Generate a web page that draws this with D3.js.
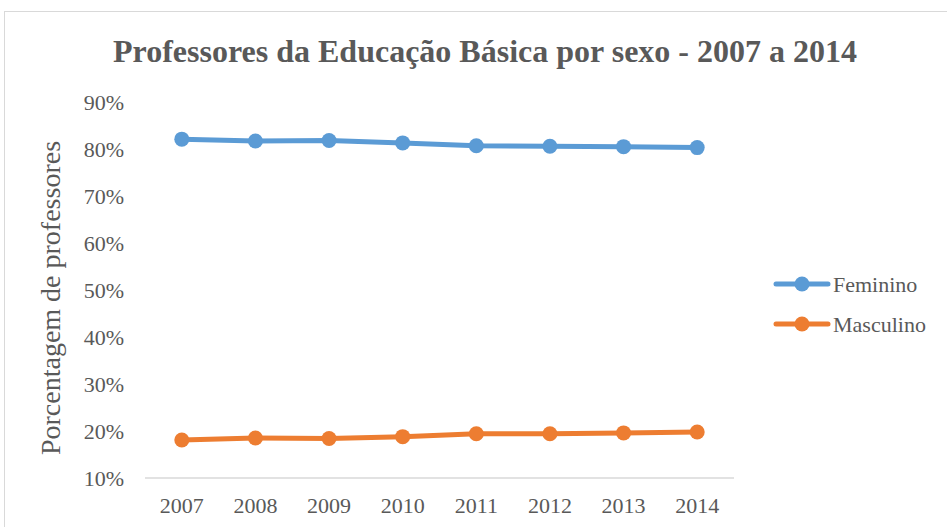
<!DOCTYPE html>
<html>
<head>
<meta charset="utf-8">
<script src="https://cdn.jsdelivr.net/npm/d3@7"></script>
<style>
  body { margin: 0; background: #fff; }
  svg text { font-family: "Liberation Serif", "Times New Roman", serif; }
</style>
</head>
<body>
<div id="chart"></div>
<script>
const years = ["2007", "2008", "2009", "2010", "2011", "2012", "2013", "2014"];
const feminino = [82.1, 81.7, 81.8, 81.3, 80.7, 80.6, 80.5, 80.3];
const masculino = [18.1, 18.5, 18.4, 18.8, 19.4, 19.4, 19.6, 19.8];
const yTicks = [10, 20, 30, 40, 50, 60, 70, 80, 90];
const seriesNames = ["Feminino", "Masculino"];
const colors = ["#5b9bd5", "#ed7d31"];

const width = 947, height = 527;
const textColor = "#595959";

let svg = d3.select("#chart").append("svg")
  .attr("width", width)
  .attr("height", height);

// chart border
svg.append("rect")
  .attr("x", 4.5).attr("y", 11.5)
  .attr("width", 960).attr("height", 540)
  .attr("fill", "#fff")
  .attr("stroke", "#d9d9d9");

svg.append("text")
  .attr("x", 485).attr("y", 62)
  .attr("text-anchor", "middle")
  .attr("font-size", 32)
  .attr("font-weight", "bold")
  .attr("fill", textColor)
  .text("Professores da Educação Básica por sexo - 2007 a 2014");

let x = d3.scaleBand().domain(years).range([145, 734]);
let y = d3.scaleLinear().domain([10, 90]).range([478, 102]);

// x axis line
svg.append("line")
  .attr("x1", x.range()[0]).attr("x2", x.range()[1])
  .attr("y1", y(10)).attr("y2", y(10))
  .attr("stroke", "#d9d9d9").attr("stroke-width", 1.3);

svg.selectAll(".xlab")
  .data(years)
  .enter().append("text")
    .attr("class", "xlab")
    .attr("x", d => x(d) + x.bandwidth() / 2)
    .attr("y", 513)
    .attr("text-anchor", "middle")
    .attr("font-size", 22)
    .attr("fill", textColor)
    .text(d => d);

svg.selectAll(".ylab")
  .data(yTicks)
  .enter().append("text")
    .attr("class", "ylab")
    .attr("x", 124)
    .attr("y", d => y(d) + 8)
    .attr("text-anchor", "end")
    .attr("font-size", 22)
    .attr("fill", textColor)
    .text(d => d + "%");

svg.append("text")
  .attr("transform", "translate(60," + 298 + ") rotate(-90)")
  .attr("text-anchor", "middle")
  .attr("font-size", 28)
  .attr("fill", textColor)
  .text("Porcentagem de professores");

let line = d3.line()
  .x((d, i) => x(years[i]) + x.bandwidth() / 2)
  .y(d => y(d));

[feminino, masculino].forEach((vals, k) => {
  svg.append("path")
    .datum(vals)
    .attr("d", line)
    .attr("fill", "none")
    .attr("stroke", colors[k])
    .attr("stroke-width", 5)
    .attr("stroke-linejoin", "round")
    .attr("stroke-linecap", "round");

  svg.selectAll(".pt" + k)
    .data(vals)
    .enter().append("circle")
      .attr("class", "pt" + k)
      .attr("cx", (d, i) => x(years[i]) + x.bandwidth() / 2)
      .attr("cy", d => y(d))
      .attr("r", 7.5)
      .attr("fill", colors[k]);
});

// legend
let legend = svg.selectAll(".legend")
  .data(seriesNames)
  .enter().append("g")
    .attr("class", "legend")
    .attr("transform", (d, i) => "translate(0," + (284 + i * 40) + ")");

legend.append("line")
  .attr("x1", 776).attr("x2", 828)
  .attr("stroke", (d, i) => colors[i])
  .attr("stroke-width", 5)
  .attr("stroke-linecap", "round");

legend.append("circle")
  .attr("cx", 802).attr("r", 7.5)
  .attr("fill", (d, i) => colors[i]);

legend.append("text")
  .attr("x", 833).attr("y", 8)
  .attr("font-size", 22)
  .attr("fill", textColor)
  .text(d => d);
</script>
</body>
</html>
